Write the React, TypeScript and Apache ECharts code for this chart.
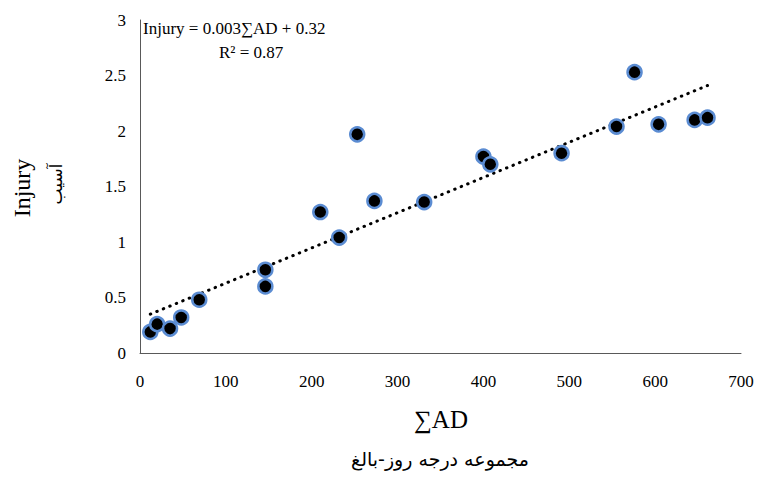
import React, { useEffect, useRef } from "react";
import * as echarts from "echarts";

const sumAD = [12, 20, 35, 48, 69, 146, 146, 210, 232, 253, 273, 331, 400, 408, 491, 555, 576, 604, 646, 661];
const injury = [0.19, 0.26, 0.22, 0.32, 0.48, 0.75, 0.60, 1.27, 1.04, 1.97, 1.37, 1.36, 1.77, 1.70, 1.80, 2.04, 2.53, 2.06, 2.10, 2.12];
const trendX = [12, 661];
const trendY = [0.35, 2.41];
const xTicks = [0, 100, 200, 300, 400, 500, 600, 700];
const yTicks = [0, 0.5, 1, 1.5, 2, 2.5, 3];

const serif = "'Liberation Serif', 'DejaVu Serif', serif";
const fa = "'DejaVu Sans', sans-serif";

export default function App() {
  const ref = useRef<HTMLDivElement>(null);
  useEffect(() => {
    if (!ref.current) return;
    const chart = echarts.init(ref.current, undefined, { renderer: "svg" });
    chart.setOption({
      animation: false,
      backgroundColor: "#ffffff",
      grid: { left: 140, right: 24, top: 20, bottom: 124 },
      xAxis: {
        type: "value",
        min: xTicks[0],
        max: xTicks[xTicks.length - 1],
        interval: 100,
        axisLine: { show: true, lineStyle: { color: "#595959", width: 1 } },
        axisTick: { show: false },
        splitLine: { show: false },
        axisLabel: { fontFamily: serif, fontSize: 17, color: "#000", margin: 20 },
      },
      yAxis: {
        type: "value",
        min: yTicks[0],
        max: yTicks[yTicks.length - 1],
        interval: 0.5,
        axisLine: { show: true, lineStyle: { color: "#595959", width: 1 } },
        axisTick: { show: false },
        splitLine: { show: false },
        axisLabel: { fontFamily: serif, fontSize: 17, color: "#000", margin: 14 },
      },
      series: [
        {
          type: "line",
          data: trendX.map((x, i) => [x, trendY[i]]),
          showSymbol: false,
          symbol: "none",
          lineStyle: { color: "#000", width: 3, type: [0.5, 6.5], cap: "round" },
          z: 3,
        },
        {
          type: "scatter",
          data: sumAD.map((x, i) => [x, injury[i]]),
          symbol: "circle",
          symbolSize: 14,
          itemStyle: { color: "#000", borderColor: "#5b8cd2", borderWidth: 2.5, opacity: 1 },
          z: 4,
        },
      ],
      graphic: [
        {
          type: "text",
          left: 143,
          top: 20,
          style: { text: "Injury = 0.003∑AD + 0.32", fontFamily: serif, fontSize: 17, fill: "#000" },
        },
        {
          type: "text",
          left: 219,
          top: 44,
          style: { text: "R² = 0.87", fontFamily: serif, fontSize: 17, fill: "#000" },
        },
        {
          type: "text",
          x: 22,
          y: 188,
          rotation: Math.PI / 2,
          style: { text: "Injury", fontFamily: serif, fontSize: 24, fill: "#000", align: "center", verticalAlign: "middle" },
        },
        {
          type: "text",
          x: 56,
          y: 184,
          rotation: Math.PI / 2,
          style: { text: "آسیب", fontFamily: fa, fontSize: 17, fill: "#000", align: "center", verticalAlign: "middle" },
        },
        {
          type: "text",
          x: 441,
          y: 419,
          style: { text: "∑AD", fontFamily: serif, fontSize: 25, fill: "#000", align: "center", verticalAlign: "middle" },
        },
        {
          type: "text",
          x: 440,
          y: 459,
          style: { text: "مجموعه درجه روز-بالغ", fontFamily: fa, fontSize: 19, fill: "#000", align: "center", verticalAlign: "middle" },
        },
      ],
    });
    return () => chart.dispose();
  }, []);
  return <div ref={ref} style={{ width: 765, height: 477, position: "absolute", left: 0, top: 0 }} />;
}
